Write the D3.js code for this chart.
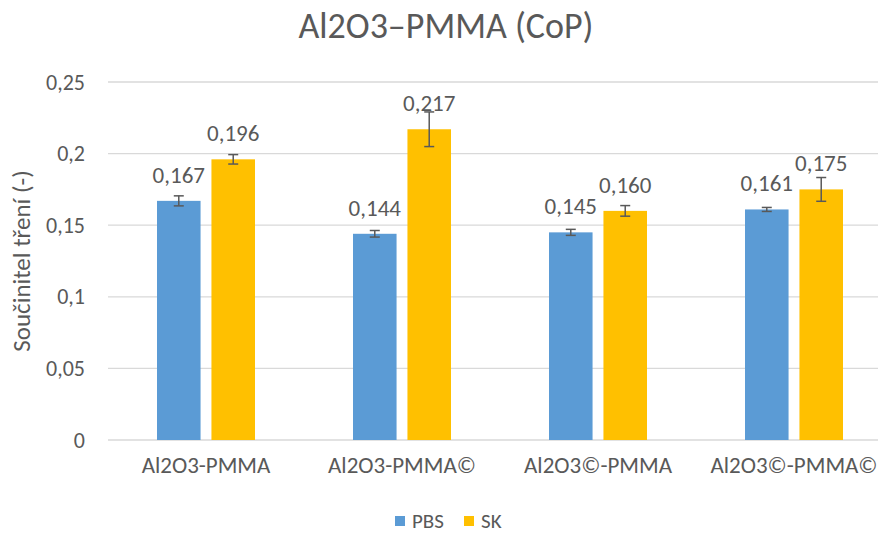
<!DOCTYPE html>
<html lang="cs">
<head>
    <meta charset="UTF-8">
    <title>Al2O3–PMMA (CoP)</title>
    <script src="https://d3js.org/d3.v7.min.js"></script>
    <style>
        body {
            margin: 0;
            background-color: #ffffff;
            overflow: hidden;
        }
        svg text {
            font-family: Carlito, Calibri, Lato, sans-serif;
            fill: #595959;
        }
    </style>
</head>
<body>
    <svg id="chart" width="878" height="533"></svg>

    <script>
        // Data
        const categories = ["Al2O3-PMMA", "Al2O3-PMMA©", "Al2O3©-PMMA", "Al2O3©-PMMA©"];
        const seriesNames = ["PBS", "SK"];
        const pbsValues = [0.167, 0.144, 0.145, 0.161];
        const skValues = [0.196, 0.217, 0.160, 0.175];
        const pbsErrors = [0.0035, 0.0023, 0.0021, 0.0014];
        const skErrors = [0.0033, 0.0121, 0.0037, 0.0083];
        const yTicks = [0, 0.05, 0.1, 0.15, 0.2, 0.25];
        const colors = ["#5B9BD5", "#FFC000"];

        const svg = d3.select("#chart");
        const margin = { top: 82, left: 108, bottom: 440, right: 892 };

        const x0 = d3.scaleBand()
            .domain(categories)
            .range([margin.left, margin.right])
            .paddingInner(0.5)
            .paddingOuter(0.25);

        const x1 = d3.scaleBand()
            .domain(seriesNames)
            .range([0, x0.bandwidth()])
            .paddingInner(0.2);

        const y = d3.scaleLinear()
            .domain([0, 0.25])
            .range([margin.bottom, margin.top]);

        const fmtTick = d => d3.format("")(d).replace(".", ",");
        const fmtLabel = d => d3.format(".3f")(d).replace(".", ",");

        // gridlines
        svg.append("g")
            .selectAll("line")
            .data(yTicks)
            .enter().append("line")
            .attr("x1", margin.left)
            .attr("x2", margin.right)
            .attr("y1", d => y(d))
            .attr("y2", d => y(d))
            .attr("stroke", "#D9D9D9")
            .attr("stroke-width", 1.3);

        // y axis labels
        const yAxis = d3.axisLeft(y).tickValues(yTicks).tickFormat(fmtTick).tickSize(0).tickPadding(23);
        const yG = svg.append("g").attr("transform", `translate(${margin.left},0)`).call(yAxis);
        yG.select(".domain").remove();
        yG.selectAll("text").attr("font-size", 22).style("fill", "#595959");

        // x axis labels
        const xAxis = d3.axisBottom(x0).tickSize(0).tickPadding(17);
        const xG = svg.append("g").attr("transform", `translate(0,${margin.bottom})`).call(xAxis);
        xG.select(".domain").remove();
        xG.selectAll("text").attr("font-size", 23).style("fill", "#595959");

        // rows for bars
        const rows = categories.map((c, i) => ({
            category: c,
            items: [
                { name: "PBS", value: pbsValues[i], err: pbsErrors[i], color: colors[0] },
                { name: "SK", value: skValues[i], err: skErrors[i], color: colors[1] }
            ]
        }));

        const groups = svg.append("g")
            .selectAll("g")
            .data(rows)
            .enter().append("g")
            .attr("transform", d => `translate(${x0(d.category)},0)`);

        const items = groups.selectAll("g.item")
            .data(d => d.items)
            .enter().append("g")
            .attr("class", "item");

        items.append("rect")
            .attr("x", d => x1(d.name))
            .attr("y", d => y(d.value))
            .attr("width", x1.bandwidth())
            .attr("height", d => y(0) - y(d.value))
            .attr("fill", d => d.color);

        // error bars
        const cx = d => x1(d.name) + x1.bandwidth() / 2;
        items.append("line")
            .attr("x1", cx).attr("x2", cx)
            .attr("y1", d => y(d.value + d.err))
            .attr("y2", d => y(d.value - d.err))
            .attr("stroke", "#595959").attr("stroke-width", 1.5);
        [1, -1].forEach(s => {
            items.append("line")
                .attr("x1", d => cx(d) - 5).attr("x2", d => cx(d) + 5)
                .attr("y1", d => y(d.value + s * d.err))
                .attr("y2", d => y(d.value + s * d.err))
                .attr("stroke", "#595959").attr("stroke-width", 1.5);
        });

        // value labels
        items.append("text")
            .attr("x", cx)
            .attr("y", d => y(d.value) - 18)
            .attr("text-anchor", "middle")
            .attr("font-size", 23)
            .text(d => fmtLabel(d.value));

        // title
        svg.append("text")
            .attr("x", 446)
            .attr("y", 38)
            .attr("text-anchor", "middle")
            .attr("font-size", 36)
            .text("Al2O3–PMMA (CoP)");

        // y axis title
        svg.append("text")
            .attr("transform", `translate(30,${(margin.top + margin.bottom) / 2}) rotate(-90)`)
            .attr("text-anchor", "middle")
            .attr("font-size", 25)
            .text("Součinitel tření (-)");

        // legend
        const legendX = [395, 464];
        const legend = svg.append("g")
            .selectAll("g")
            .data(seriesNames)
            .enter().append("g")
            .attr("transform", (d, i) => `translate(${legendX[i]},516)`);
        legend.append("rect")
            .attr("width", 10).attr("height", 10)
            .attr("fill", (d, i) => colors[i]);
        legend.append("text")
            .attr("x", 17).attr("y", 12)
            .attr("font-size", 21)
            .text(d => d);
    </script>
</body>
</html>
